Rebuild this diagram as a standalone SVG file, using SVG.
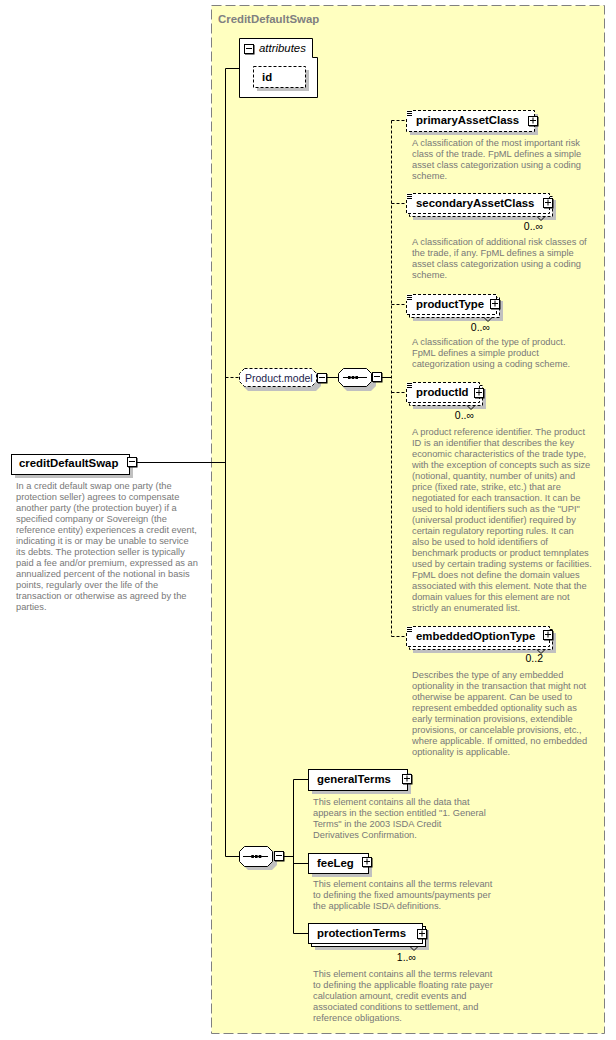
<svg xmlns="http://www.w3.org/2000/svg" width="616" height="1040" viewBox="0 0 616 1040">
<defs>
<style>
text{font-family:"Liberation Sans",Arial,sans-serif}
.nm{font-size:11.4px;font-weight:bold;fill:#000}
.ti{font-size:11.4px;font-weight:bold;fill:#808080}
.it{font-size:11.4px;font-style:italic;fill:#000}
.gr{font-size:10.5px;fill:#1c1c4c}
.ds{font-size:9.3px;fill:#787878}
.mu{font-size:10.5px;fill:#000}
.sh{fill:#c0c0c0}
.box{fill:#fff;stroke:#000;stroke-width:1}
.dbox{fill:#fff;stroke:#000;stroke-width:1;stroke-dasharray:3,2}
.wf{fill:#fff}
.dln{fill:none;stroke:#000;stroke-width:1;stroke-dasharray:3,2}
.ln{fill:none;stroke:#000;stroke-width:1}
</style>
<g id="plus"><rect x="1" y="1" width="9.5" height="9.5" fill="#000"/><rect x="0.5" y="0.5" width="9" height="9" fill="#fff" stroke="#000"/><path d="M2,4.5H8M5,1.5V7.5" stroke="#000" fill="none"/></g>
<g id="minus"><rect x="1" y="1" width="9.5" height="9.5" fill="#000"/><rect x="0.5" y="0.5" width="9" height="9" fill="#fff" stroke="#000"/><path d="M2,4.5H8" stroke="#000" fill="none"/></g>
<g id="eq"><path d="M0,0.5H5M0,2.5H5M0,4.5H5" stroke="#000" fill="none"/></g>
</defs>

<rect x="211.5" y="5.5" width="393" height="1028" fill="#ffffc0" stroke="#808080" stroke-dasharray="10,4"/>
<text class="ti" x="218" y="23">CreditDefaultSwap</text>

<g id="connectors">
<path class="ln" d="M137,462.5H225.5M225.5,68.5V856.5M225.5,68.5H239M326,377.5H338M381,377.5H391.5M225.5,856.5H239M284,856.5H293.5M293.5,779.5V933.5M293.5,779.5H308M293.5,863.5H308M293.5,933.5H308"/>
<path class="dln" d="M225.5,377.5H239M391.5,120.5V636.5M391.5,120.5H406M391.5,203.5H406M391.5,304.5H406M391.5,392.5H406M391.5,636.5H406"/>
</g>

<g id="creditDefaultSwap">
<rect class="sh" x="15" y="458" width="118" height="20"/>
<rect class="box" x="11.5" y="454.5" width="118" height="20"/>
<text class="nm" x="19" y="467">creditDefaultSwap</text>
<use href="#minus" x="127" y="457"/>
<text class="ds">
<tspan x="16" y="489">In a credit default swap one party (the</tspan>
<tspan x="16" y="500">protection seller) agrees to compensate</tspan>
<tspan x="16" y="511">another party (the protection buyer) if a</tspan>
<tspan x="16" y="522">specified company or Sovereign (the</tspan>
<tspan x="16" y="533">reference entity) experiences a credit event,</tspan>
<tspan x="16" y="544">indicating it is or may be unable to service</tspan>
<tspan x="16" y="555">its debts. The protection seller is typically</tspan>
<tspan x="16" y="566">paid a fee and/or premium, expressed as an</tspan>
<tspan x="16" y="577">annualized percent of the notional in basis</tspan>
<tspan x="16" y="588">points, regularly over the life of the</tspan>
<tspan x="16" y="599">transaction or otherwise as agreed by the</tspan>
<tspan x="16" y="610">parties.</tspan>
</text>
</g>

<g id="attributes">
<path class="box" d="M239.5,38.5H312.5V57.5H317.5V97.5H239.5Z"/>
<use href="#minus" x="244" y="44"/>
<text class="it" x="259" y="52">attributes</text>
</g>

<g id="id">
<rect class="sh" x="257" y="70" width="52" height="21"/>
<rect class="dbox" x="253.5" y="66.5" width="52" height="21"/>
<text class="nm" x="262" y="81">id</text>
</g>

<g id="Product.model">
<path class="sh" d="M248,372H316L321,377V386L316,391H248L243,386V377Z"/>
<path class="dbox" d="M244.5,368.5H311.5L316.5,373.5V381.5L311.5,386.5H244.5L239.5,381.5V373.5Z"/>
<text class="gr" x="245" y="382">Product.model</text>
<use href="#minus" x="317" y="373"/>
</g>

<g id="sequence1">
<path class="sh" d="M347,372H371L376,377V386L371,391H347L342,386V377Z"/>
<path class="box" d="M343.5,368.5H366.5L371.5,373.5V381.5L366.5,386.5H343.5L338.5,381.5V373.5Z"/>
<path class="ln" d="M343,377.5H367"/>
<rect x="348" y="376" width="2.6" height="3" fill="#000"/>
<rect x="351.7" y="376" width="2.6" height="3" fill="#000"/>
<rect x="355.4" y="376" width="2.6" height="3" fill="#000"/>
<use href="#minus" x="372" y="372"/>
</g>

<g id="primaryAssetClass">
<rect class="sh" x="410" y="114" width="128" height="21"/>
<rect class="wf" x="406.5" y="110.5" width="128" height="21"/>
<path class="dln" d="M413,110.5H534.5V131.5H406.5V117"/>
<use href="#eq" x="407" y="111"/>
<text class="nm" x="416" y="124">primaryAssetClass</text>
<use href="#plus" x="528" y="116"/>
<text class="ds">
<tspan x="412" y="146">A classification of the most important risk</tspan>
<tspan x="412" y="157">class of the trade. FpML defines a simple</tspan>
<tspan x="412" y="168">asset class categorization using a coding</tspan>
<tspan x="412" y="179">scheme.</tspan>
</text>
</g>

<g id="secondaryAssetClass">
<rect class="sh" x="413" y="200" width="143" height="20"/>
<rect class="dbox" x="409.5" y="196.5" width="143" height="20"/>
<rect class="wf" x="406.5" y="193.5" width="143" height="20"/>
<path class="dln" d="M413,193.5H549.5V213.5H406.5V200"/>
<use href="#eq" x="407" y="194"/>
<text class="nm" x="416" y="207">secondaryAssetClass</text>
<use href="#plus" x="543" y="198"/>
<path class="ln" d="M537,216.5L541,220.5L545,216.5"/>
<text class="mu" x="543" y="230" text-anchor="end">0..∞</text>
<text class="ds">
<tspan x="412" y="245">A classification of additional risk classes of</tspan>
<tspan x="412" y="256">the trade, if any. FpML defines a simple</tspan>
<tspan x="412" y="267">asset class categorization using a coding</tspan>
<tspan x="412" y="278">scheme.</tspan>
</text>
</g>

<g id="productType">
<rect class="sh" x="413" y="301" width="90" height="20"/>
<rect class="dbox" x="409.5" y="297.5" width="90" height="20"/>
<rect class="wf" x="406.5" y="294.5" width="90" height="20"/>
<path class="dln" d="M413,294.5H496.5V314.5H406.5V301"/>
<use href="#eq" x="407" y="295"/>
<text class="nm" x="416" y="308">productType</text>
<use href="#plus" x="490" y="299"/>
<path class="ln" d="M484,317.5L488,321.5L492,317.5"/>
<text class="mu" x="490" y="331" text-anchor="end">0..∞</text>
<text class="ds">
<tspan x="412" y="345">A classification of the type of product.</tspan>
<tspan x="412" y="356">FpML defines a simple product</tspan>
<tspan x="412" y="367">categorization using a coding scheme.</tspan>
</text>
</g>

<g id="productId">
<rect class="sh" x="413" y="389" width="73" height="20"/>
<rect class="dbox" x="409.5" y="385.5" width="73" height="20"/>
<rect class="wf" x="406.5" y="382.5" width="73" height="20"/>
<path class="dln" d="M413,382.5H479.5V402.5H406.5V389"/>
<use href="#eq" x="407" y="383"/>
<text class="nm" x="416" y="396">productId</text>
<use href="#plus" x="474" y="388"/>
<path class="ln" d="M467,405.5L471,409.5L475,405.5"/>
<text class="mu" x="474" y="419" text-anchor="end">0..∞</text>
<text class="ds">
<tspan x="412" y="435">A product reference identifier. The product</tspan>
<tspan x="412" y="446">ID is an identifier that describes the key</tspan>
<tspan x="412" y="457">economic characteristics of the trade type,</tspan>
<tspan x="412" y="468">with the exception of concepts such as size</tspan>
<tspan x="412" y="479">(notional, quantity, number of units) and</tspan>
<tspan x="412" y="490">price (fixed rate, strike, etc.) that are</tspan>
<tspan x="412" y="501">negotiated for each transaction. It can be</tspan>
<tspan x="412" y="512">used to hold identifiers such as the "UPI"</tspan>
<tspan x="412" y="523">(universal product identifier) required by</tspan>
<tspan x="412" y="534">certain regulatory reporting rules. It can</tspan>
<tspan x="412" y="545">also be used to hold identifiers of</tspan>
<tspan x="412" y="556">benchmark products or product temnplates</tspan>
<tspan x="412" y="567">used by certain trading systems or facilities.</tspan>
<tspan x="412" y="578">FpML does not define the domain values</tspan>
<tspan x="412" y="589">associated with this element. Note that the</tspan>
<tspan x="412" y="600">domain values for this element are not</tspan>
<tspan x="412" y="611">strictly an enumerated list.</tspan>
</text>
</g>

<g id="embeddedOptionType">
<rect class="sh" x="413" y="633" width="143" height="20"/>
<rect class="dbox" x="409.5" y="629.5" width="143" height="20"/>
<rect class="wf" x="406.5" y="626.5" width="143" height="20"/>
<path class="dln" d="M413,626.5H549.5V646.5H406.5V633"/>
<use href="#eq" x="407" y="627"/>
<text class="nm" x="416" y="640">embeddedOptionType</text>
<use href="#plus" x="543" y="630"/>
<path class="ln" d="M537,649.5L541,653.5L545,649.5"/>
<text class="mu" x="543" y="662" text-anchor="end">0..2</text>
<text class="ds">
<tspan x="412" y="678">Describes the type of any embedded</tspan>
<tspan x="412" y="689">optionality in the transaction that might not</tspan>
<tspan x="412" y="700">otherwise be apparent. Can be used to</tspan>
<tspan x="412" y="711">represent embedded optionality such as</tspan>
<tspan x="412" y="722">early termination provisions, extendible</tspan>
<tspan x="412" y="733">provisions, or cancelable provisions, etc.,</tspan>
<tspan x="412" y="744">where applicable. If omitted, no embedded</tspan>
<tspan x="412" y="755">optionality is applicable.</tspan>
</text>
</g>

<g id="sequence2">
<path class="sh" d="M248,850H272L277,855V865L272,870H248L243,865V855Z"/>
<path class="box" d="M244.5,846.5H267.5L272.5,851.5V861.5L267.5,866.5H244.5L239.5,861.5V851.5Z"/>
<path class="ln" d="M243,856.5H268"/>
<rect x="251.3" y="855" width="2.6" height="3" fill="#000"/>
<rect x="255" y="855" width="2.6" height="3" fill="#000"/>
<rect x="258.7" y="855" width="2.6" height="3" fill="#000"/>
<use href="#minus" x="274" y="851"/>
</g>

<g id="generalTerms">
<rect class="sh" x="312" y="773" width="99" height="21"/>
<rect class="box" x="308.5" y="769.5" width="99" height="21"/>
<text class="nm" x="317" y="783">generalTerms</text>
<use href="#plus" x="402" y="774"/>
<text class="ds">
<tspan x="313" y="805">This element contains all the data that</tspan>
<tspan x="313" y="816">appears in the section entitled "1. General</tspan>
<tspan x="313" y="827">Terms" in the 2003 ISDA Credit</tspan>
<tspan x="313" y="838">Derivatives Confirmation.</tspan>
</text>
</g>

<g id="feeLeg">
<rect class="sh" x="312" y="857" width="60" height="20"/>
<rect class="box" x="308.5" y="853.5" width="60" height="20"/>
<text class="nm" x="317" y="867">feeLeg</text>
<use href="#plus" x="362" y="857"/>
<text class="ds">
<tspan x="313" y="887">This element contains all the terms relevant</tspan>
<tspan x="313" y="898">to defining the fixed amounts/payments per</tspan>
<tspan x="313" y="909">the applicable ISDA definitions.</tspan>
</text>
</g>

<g id="protectionTerms">
<rect class="sh" x="315" y="930" width="114" height="20"/>
<rect class="box" x="311.5" y="926.5" width="114" height="20"/>
<rect class="box" x="308.5" y="923.5" width="114" height="20"/>
<text class="nm" x="317" y="937">protectionTerms</text>
<use href="#plus" x="417" y="929"/>
<path class="ln" d="M410,946.5L414,950.5L418,946.5"/>
<text class="mu" x="416" y="961" text-anchor="end">1..∞</text>
<text class="ds">
<tspan x="313" y="977">This element contains all the terms relevant</tspan>
<tspan x="313" y="988">to defining the applicable floating rate payer</tspan>
<tspan x="313" y="999">calculation amount, credit events and</tspan>
<tspan x="313" y="1010">associated conditions to settlement, and</tspan>
<tspan x="313" y="1021">reference obligations.</tspan>
</text>
</g>
</svg>
